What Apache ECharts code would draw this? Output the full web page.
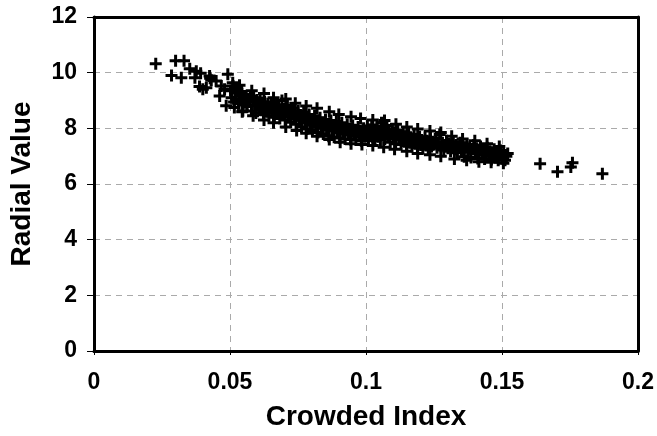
<!DOCTYPE html>
<html>
<head>
<meta charset="utf-8">
<script src="https://cdn.jsdelivr.net/npm/echarts@6/dist/echarts.min.js"></script>
<style>html,body{margin:0;padding:0;background:#fff}#c{width:657px;height:436px}</style>
</head>
<body>
<div id="c"></div>
<script>
var xTicks = [0, 0.05, 0.1, 0.15, 0.2];
var yTicks = [0, 2, 4, 6, 8, 10, 12];
var xTitle = 'Crowded Index';
var yTitle = 'Radial Value';

var crowdedIndex = [
0.0227,0.0300,0.0331,0.0285,0.0321,0.0352,0.0376,0.0392,0.0371,0.0427,0.0388,0.0413,
0.0425,0.0431,0.0492,0.0449,0.0400,0.0468,0.0480,0.0510,0.0462,0.0486,0.0516,0.0547,0.0559,
0.0502,0.0506,0.0511,0.0515,0.0519,0.0523,0.0527,0.0531,0.0535,0.0539,0.0543,0.0551,0.0555,0.0563,0.0567,0.0571,0.0575,0.0579,0.0583,0.0587,0.0591,0.0595,0.0599,
0.0603,0.0607,0.0611,0.0615,0.0619,0.0623,0.0627,0.0631,0.0635,0.0639,0.0643,0.0647,0.0651,0.0655,0.0659,0.0663,0.0667,0.0671,0.0675,0.0679,0.0683,0.0687,0.0691,0.0695,0.0699,0.0703,0.0707,0.0711,0.0715,0.0719,0.0723,0.0727,0.0731,0.0735,0.0739,0.0743,0.0747,
0.0751,0.0755,0.0759,0.0763,0.0767,0.0771,0.0775,0.0779,0.0783,0.0787,0.0791,0.0795,0.0799,0.0803,0.0807,0.0811,0.0815,0.0819,0.0823,0.0827,0.0831,0.0835,0.0839,0.0843,0.0847,0.0851,0.0855,0.0859,0.0863,0.0867,0.0871,0.0875,0.0879,0.0883,0.0887,0.0891,0.0895,0.0899,0.0903,0.0907,0.0911,0.0915,0.0919,0.0923,0.0927,0.0931,0.0935,0.0939,0.0943,0.0947,0.0951,0.0955,0.0959,0.0963,0.0967,0.0971,0.0975,0.0979,0.0983,0.0987,0.0991,0.0995,
0.1001,0.1005,0.1009,0.1013,0.1017,0.1021,0.1025,0.1029,0.1033,0.1037,0.1041,0.1045,0.1049,0.1053,0.1057,0.1061,0.1065,0.1069,0.1073,0.1077,0.1081,0.1085,0.1089,0.1093,0.1097,0.1101,0.1105,0.1109,0.1113,0.1117,0.1121,0.1125,0.1129,0.1133,0.1137,0.1141,0.1145,0.1149,0.1153,0.1157,0.1161,0.1165,0.1169,0.1173,0.1177,0.1181,0.1185,0.1189,0.1193,0.1197,0.1201,0.1205,0.1209,0.1213,0.1217,0.1221,0.1225,0.1229,0.1233,0.1237,0.1241,0.1245,
0.1251,0.1256,0.1261,0.1266,0.1271,0.1276,0.1281,0.1286,0.1291,0.1296,0.1301,0.1306,0.1311,0.1316,0.1321,0.1326,0.1331,0.1336,0.1341,0.1346,0.1351,0.1356,0.1361,0.1366,0.1371,0.1376,0.1381,0.1386,0.1391,0.1396,0.1401,0.1406,0.1411,0.1416,0.1421,0.1426,0.1431,0.1436,0.1441,0.1446,0.1451,0.1456,0.1461,0.1466,0.1471,0.1476,0.1481,0.1486,0.1491,0.1496,0.1501,0.1506,0.1511,0.1516,0.1521,
0.0535,0.0580,0.0625,0.0660,0.0705,0.0740,0.0780,0.0820,0.0865,0.0900,0.0945,0.0980,0.1025,0.1068,0.1110,0.1150,0.1190,0.1235,0.1275,0.1315,0.1355,0.1400,0.1445,0.1490,
0.0545,0.0585,0.0625,0.0660,0.0705,0.0745,0.0780,0.0820,0.0865,0.0905,0.0945,0.0985,0.1025,0.1065,0.1105,0.1150,0.1190,0.1235,0.1275,0.1325,0.1370,0.1415,0.1460,0.1505,
0.1640,0.1704,0.1759,0.1753,0.1869
];
var radialValue = [
10.32,10.43,10.43,9.90,9.82,10.14,10.05,9.98,9.82,9.80,9.50,9.46,
9.88,9.73,9.94,9.70,9.40,9.52,9.40,9.64,9.16,8.81,8.75,8.63,9.05,
9.35,9.10,9.52,8.95,9.28,9.05,9.40,8.88,9.18,9.00,9.32,9.12,8.92,8.80,9.05,8.95,9.15,8.62,8.98,9.10,8.82,8.55,9.02,
8.90,8.72,9.08,8.65,8.85,8.50,8.95,8.78,8.60,8.88,8.45,8.70,8.92,8.58,8.80,8.40,8.66,8.85,8.52,8.74,8.35,8.62,9.00,8.48,8.70,8.30,8.58,8.82,8.42,8.65,8.22,8.50,8.72,8.38,8.55,8.15,8.45,
8.62,8.30,8.48,8.05,8.40,8.58,8.20,8.35,7.98,8.28,8.50,8.12,8.32,7.92,8.22,8.45,8.05,8.25,7.85,8.18,8.38,8.00,8.20,7.80,8.12,8.32,7.95,8.15,7.72,8.08,8.28,7.90,8.10,7.68,8.02,8.25,7.85,8.05,7.65,7.95,8.20,7.82,8.00,7.62,7.92,8.15,7.78,7.98,7.60,7.88,8.10,7.75,7.95,7.58,7.85,8.05,7.72,7.90,7.55,7.82,8.00,7.70,
7.88,8.08,7.62,7.95,7.75,8.12,7.68,7.90,7.55,7.82,8.05,7.70,7.92,7.58,8.20,7.78,7.98,7.62,7.85,8.10,7.72,7.90,7.50,7.80,7.98,7.65,7.85,7.45,7.75,7.92,7.58,7.78,7.42,7.70,7.85,7.52,7.72,7.38,7.65,7.80,7.48,7.68,7.35,7.60,7.75,7.45,7.62,7.30,7.55,7.70,7.40,7.58,7.28,7.52,7.68,7.38,7.55,7.25,7.50,7.65,7.35,7.52,
7.42,7.62,7.30,7.50,7.78,7.35,7.48,7.22,7.40,7.55,7.28,7.45,7.18,7.38,7.52,7.25,7.40,7.12,7.35,7.48,7.20,7.38,6.98,7.30,7.42,7.15,7.32,6.95,7.25,7.40,7.10,7.28,6.92,7.20,7.35,7.05,7.22,6.90,7.15,7.30,7.00,7.18,6.88,7.10,7.25,6.95,7.12,6.85,7.05,7.20,6.92,7.08,6.85,7.00,7.10,
9.55,9.35,9.25,9.10,9.05,8.90,8.80,8.72,8.60,8.50,8.42,8.35,8.30,8.28,8.15,8.05,7.98,7.90,7.85,7.72,7.62,7.55,7.45,7.35,
8.60,8.45,8.30,8.20,8.05,7.92,7.82,7.72,7.60,7.50,7.45,7.42,7.38,7.32,7.25,7.18,7.10,7.05,7.00,6.90,6.85,6.80,6.78,6.75,
6.73,6.44,6.76,6.61,6.37
];

var points = crowdedIndex.map(function (x, i) { return [x, radialValue[i]]; });
var FONT = 'Arial, "Liberation Sans", sans-serif';
var plus = 'path://M4.5,0H7.5V4.5H12V7.5H7.5V12H4.5V7.5H0V4.5H4.5Z';
var labelStyle = {fontFamily: FONT, fontWeight: 'bold', fontSize: 23, color: '#000'};
var titleStyle = {fontFamily: FONT, fontWeight: 'bold', fontSize: 28, color: '#000'};

var chart = echarts.init(document.getElementById('c'), null, {renderer: 'canvas'});
chart.setOption({
  animation: false,
  backgroundColor: '#fff',
  grid: {left: 94, right: 17, top: 17, bottom: 82, containLabel: false},
  xAxis: [{
    type: 'value', min: xTicks[0], max: xTicks[xTicks.length - 1], interval: 0.05,
    name: xTitle, nameLocation: 'middle', nameGap: 52,
    nameTextStyle: titleStyle,
    axisLine: {show: true, onZero: false, lineStyle: {color: '#000', width: 3}},
    axisTick: {show: true, length: 4, lineStyle: {color: '#000', width: 1}},
    axisLabel: Object.assign({margin: 20, formatter: function (v) { return String(+v.toFixed(2)); }}, labelStyle),
    splitLine: {show: true, lineStyle: {color: '#aaa', width: 1, type: [6, 5]}}
  }, {
    type: 'value', position: 'top', min: xTicks[0], max: xTicks[xTicks.length - 1], interval: 0.05,
    axisLine: {show: true, onZero: false, lineStyle: {color: '#000', width: 3}},
    axisTick: {show: false}, axisLabel: {show: false}, splitLine: {show: false}
  }],
  yAxis: [{
    type: 'value', min: yTicks[0], max: yTicks[yTicks.length - 1], interval: 2,
    name: yTitle, nameLocation: 'middle', nameGap: 58, nameRotate: 90,
    nameTextStyle: titleStyle,
    axisLine: {show: true, onZero: false, lineStyle: {color: '#000', width: 3}},
    axisTick: {show: true, length: 7, lineStyle: {color: '#000', width: 1}},
    axisLabel: Object.assign({margin: 17}, labelStyle),
    splitLine: {show: true, lineStyle: {color: '#aaa', width: 1, type: [6, 5]}}
  }, {
    type: 'value', position: 'right', min: yTicks[0], max: yTicks[yTicks.length - 1], interval: 2,
    axisLine: {show: true, onZero: false, lineStyle: {color: '#000', width: 3}},
    axisTick: {show: false}, axisLabel: {show: false}, splitLine: {show: false}
  }],
  series: [{
    type: 'scatter',
    data: points,
    symbol: plus,
    symbolSize: 12,
    itemStyle: {color: '#000', opacity: 1}
  }]
});
</script>
</body>
</html>
